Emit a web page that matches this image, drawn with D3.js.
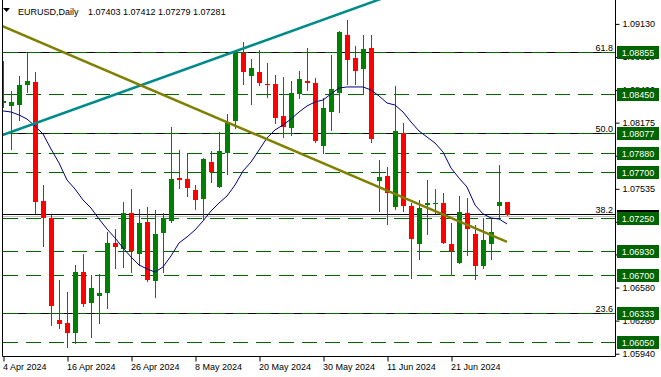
<!DOCTYPE html>
<html>
<head>
<meta charset="utf-8">
<script src="https://cdn.jsdelivr.net/npm/d3@7"></script>
<style>
body { margin: 0; background: #fff; }
svg { display: block; font-family: "Liberation Sans", Arial, sans-serif; font-size: 9px; }
</style>
</head>
<body>
<script>
const symbol = 'EURUSD,Daily';

const dates = [
	'2024-04-04','2024-04-05','2024-04-08','2024-04-09','2024-04-10','2024-04-11','2024-04-12','2024-04-15','2024-04-16','2024-04-17',
	'2024-04-18','2024-04-19','2024-04-22','2024-04-23','2024-04-24','2024-04-25','2024-04-26','2024-04-29','2024-04-30','2024-05-01',
	'2024-05-02','2024-05-03','2024-05-06','2024-05-07','2024-05-08','2024-05-09','2024-05-10','2024-05-13','2024-05-14','2024-05-15',
	'2024-05-16','2024-05-17','2024-05-20','2024-05-21','2024-05-22','2024-05-23','2024-05-24','2024-05-27','2024-05-28','2024-05-29',
	'2024-05-30','2024-05-31','2024-06-03','2024-06-04','2024-06-05','2024-06-06','2024-06-07','2024-06-10','2024-06-11','2024-06-12',
	'2024-06-13','2024-06-14','2024-06-17','2024-06-18','2024-06-19','2024-06-20','2024-06-21','2024-06-24','2024-06-25','2024-06-26',
	'2024-06-27','2024-06-28','2024-07-01','2024-07-02'
];

const open = [
	1.08365,1.08339,1.08345,1.08539,1.08568,1.07417,1.07253,1.06266,1.06237,1.06140,
	1.06730,1.06430,1.06498,1.06527,1.07011,1.06953,1.07301,1.06904,1.07214,1.06643,
	1.07108,1.07224,1.07639,1.07630,1.07523,1.07436,1.07794,1.07552,1.07881,1.08191,
	1.08848,1.08626,1.08665,1.08549,1.08549,1.08239,1.08123,1.08452,1.08578,1.08558,
	1.07949,1.08278,1.08462,1.09023,1.08800,1.08694,1.08897,1.07610,1.07659,1.07359,
	1.08075,1.07369,1.07001,1.07378,1.07393,1.07398,1.07001,1.06817,1.07301,1.07098,
	1.06788,1.07001,1.07369,1.07403
];
const high = [
	1.08771,1.08481,1.08626,1.08848,1.08665,1.07572,1.07282,1.06653,1.06537,1.06798,
	1.06904,1.06701,1.06711,1.07117,1.07146,1.07407,1.07533,1.07340,1.07359,1.07330,
	1.07301,1.08133,1.07910,1.07881,1.07572,1.07833,1.07901,1.08084,1.08258,1.08877,
	1.08955,1.08790,1.08877,1.08752,1.08636,1.08616,1.08578,1.08674,1.08897,1.08607,
	1.08413,1.08829,1.09061,1.09168,1.08916,1.09023,1.09023,1.07813,1.07746,1.08529,
	1.08171,1.07398,1.07427,1.07620,1.07533,1.07494,1.07204,1.07465,1.07446,1.07185,
	1.07253,1.07243,1.07765,1.07412
];
const low = [
	1.08330,1.07920,1.08200,1.08471,1.07301,1.06982,1.06218,1.06189,1.06005,1.06044,
	1.06401,1.06102,1.06237,1.06382,1.06769,1.06779,1.06730,1.06798,1.06643,1.06488,
	1.06730,1.07214,1.07543,1.07465,1.07340,1.07243,1.07601,1.07552,1.07678,1.08123,
	1.08549,1.08355,1.08539,1.08423,1.08171,1.08036,1.08055,1.08413,1.08491,1.07988,
	1.07881,1.08104,1.08278,1.08549,1.08549,1.08452,1.07988,1.07320,1.07195,1.07340,
	1.07320,1.06672,1.06856,1.07098,1.07301,1.07011,1.06701,1.06817,1.06895,1.06663,
	1.06769,1.06856,1.07262,1.07279
];
const close = [
	1.08384,1.08377,1.08539,1.08578,1.07407,1.07253,1.06401,1.06227,1.06140,1.06730,
	1.06421,1.06576,1.06527,1.07011,1.06972,1.07301,1.06933,1.07204,1.06653,1.07098,
	1.07253,1.07630,1.07620,1.07543,1.07427,1.07823,1.07697,1.07901,1.08171,1.08848,
	1.08665,1.08703,1.08558,1.08539,1.08220,1.08133,1.08462,1.08597,1.08558,1.07997,
	1.08316,1.08500,1.09052,1.08781,1.08674,1.08887,1.08017,1.07649,1.07494,1.08094,
	1.07369,1.07049,1.07349,1.07398,1.07402,1.07011,1.06933,1.07311,1.07146,1.06788,
	1.07040,1.07117,1.07407,1.07281
];
const movingAverage = [
	1.08288,1.08278,1.08249,1.08210,1.08143,1.08065,1.07920,1.07785,1.07620,1.07533,
	1.07427,1.07349,1.07243,1.07146,1.07060,1.06963,1.06876,1.06798,1.06760,1.06730,
	1.06779,1.06886,1.07011,1.07069,1.07137,1.07224,1.07320,1.07398,1.07465,1.07572,
	1.07707,1.07794,1.07910,1.08027,1.08104,1.08152,1.08210,1.08278,1.08336,1.08375,
	1.08394,1.08452,1.08510,1.08520,1.08520,1.08520,1.08491,1.08433,1.08365,1.08345,
	1.08278,1.08181,1.08094,1.08036,1.07978,1.07891,1.07736,1.07639,1.07552,1.07378,
	1.07292,1.07253,1.07243,1.07195
];

const priceTicks = [1.09130, 1.08810, 1.08490, 1.08175, 1.07855, 1.07535, 1.07215, 1.06900, 1.06580, 1.06260, 1.05940];
const dateTicks = ['2024-04-04','2024-04-16','2024-04-26','2024-05-08','2024-05-20','2024-05-30','2024-06-11','2024-06-21'];

const levels = [1.08855, 1.08450, 1.08077, 1.07880, 1.07700, 1.07250, 1.06930, 1.06700, 1.06333, 1.06050];
const fibNames = ['61.8', '50.0', '38.2', '23.6'];
const fibPrices = [1.08855, 1.08070, 1.07296, 1.06333];

const risingTrend = [[-1, 1.08028], [48, 1.09393]];
const fallingTrend = [[-1, 1.09140], [63, 1.07021]];

var bars = dates.map((d, i) => ({date: d, o: open[i], h: high[i], l: low[i], c: close[i]}));
var last = bars[bars.length - 1];

var svgSize = {'width': 661, 'height': 377};
var plot = {'left': 3, 'right': 615, 'top': 0, 'bottom': 356};

var svg = d3.select('body').append('svg')
	.attr('width', svgSize.width)
	.attr('height', svgSize.height);

var x = d3.scaleLinear().domain([0, dates.length - 1]).range([3, 507]);
var y = d3.scaleLinear().domain([1.05940, 1.09130]).range([353.7, 23.9]);
var py = (p) => Math.round(y(p)) + 0.5;

svg.append('clipPath').attr('id', 'plot-clip')
	.append('rect')
	.attr('x', plot.left)
	.attr('y', plot.top)
	.attr('width', plot.right - plot.left)
	.attr('height', plot.bottom - plot.top);

var chart = svg.append('g').attr('clip-path', 'url(#plot-clip)');

// fibonacci levels
chart.selectAll('.fib')
	.data(fibPrices)
	.enter()
	.append('line')
	.attr('x1', plot.left).attr('x2', plot.right)
	.attr('y1', (d) => py(d)).attr('y2', (d) => py(d))
	.attr('stroke', '#000')
	.attr('stroke-width', 1);

// horizontal support / resistance levels
chart.selectAll('.level')
	.data(levels)
	.enter()
	.append('line')
	.attr('x1', plot.left).attr('x2', plot.right)
	.attr('y1', (d) => py(d)).attr('y2', (d) => py(d))
	.attr('stroke', '#006400')
	.attr('stroke-width', 1)
	.attr('stroke-dasharray', '15,8');

// bid line
chart.append('line')
	.attr('x1', plot.left).attr('x2', plot.right)
	.attr('y1', py(last.c) + 1).attr('y2', py(last.c) + 1)
	.attr('stroke', '#c0c0c0');

var candle = chart.selectAll('.candle')
	.data(bars)
	.enter()
	.append('g')
	.attr('shape-rendering', 'crispEdges');

candle.append('line')
	.attr('x1', (d, i) => x(i) + 0.5)
	.attr('x2', (d, i) => x(i) + 0.5)
	.attr('y1', (d) => Math.round(y(d.h)))
	.attr('y2', (d) => Math.round(y(d.l)) + 1)
	.attr('stroke', (d) => d.c >= d.o ? '#008000' : '#ff0000');

candle.append('rect')
	.attr('x', (d, i) => x(i) - 2)
	.attr('width', 5)
	.attr('y', (d) => Math.round(y(Math.max(d.o, d.c))))
	.attr('height', (d) => Math.max(1, Math.round(y(Math.min(d.o, d.c))) - Math.round(y(Math.max(d.o, d.c)))))
	.attr('fill', (d) => d.c >= d.o ? '#008000' : '#ff0000');

chart.append('path')
	.datum(movingAverage)
	.attr('d', d3.line().x((d, i) => x(i)).y((d) => y(d)))
	.attr('fill', 'none')
	.attr('stroke', '#000080')
	.attr('stroke-width', 1);

var trendLine = d3.line().x((d) => x(d[0])).y((d) => y(d[1]));

chart.append('path')
	.datum(risingTrend)
	.attr('d', trendLine)
	.attr('stroke', '#008b8b')
	.attr('stroke-width', 2.5);

chart.append('path')
	.datum(fallingTrend)
	.attr('d', trendLine)
	.attr('stroke', '#808000')
	.attr('stroke-width', 2.5);

// frame
svg.append('path')
	.attr('d', `M${plot.left - 0.5},0V${plot.bottom + 0.5}H${plot.right + 0.5}V0`)
	.attr('fill', 'none')
	.attr('stroke', '#000');

chart.selectAll('.fib-label')
	.data(fibPrices)
	.enter()
	.append('text')
	.attr('x', 613)
	.attr('y', (d) => py(d) - 2)
	.attr('text-anchor', 'end')
	.attr('fill', '#000')
	.text((d, i) => fibNames[i]);

var yAxis = svg.append('g')
	.attr('transform', `translate(${plot.right + 0.5}, 0)`)
	.call(d3.axisRight(y).tickValues(priceTicks).tickFormat(d3.format('.5f')).tickSize(4).tickPadding(3));
yAxis.select('.domain').remove();
yAxis.attr('font-size', null).attr('font-family', null);
yAxis.selectAll('text').attr('fill', '#000');

var parseDate = d3.timeParse('%Y-%m-%d');
var xAxis = svg.append('g')
	.attr('transform', `translate(0.5, ${plot.bottom + 0.5})`)
	.call(d3.axisBottom(x)
		.tickValues(dateTicks.map((d) => dates.indexOf(d)))
		.tickFormat((i) => d3.timeFormat('%-d %b %Y')(parseDate(dates[i])))
		.tickSize(5)
		.tickPadding(2));
xAxis.select('.domain').remove();
xAxis.attr('font-size', null).attr('font-family', null);
xAxis.selectAll('text').attr('fill', '#000').attr('text-anchor', 'start').attr('x', -1);

// bid price box, mostly hidden under the level labels
svg.append('rect')
	.attr('x', 617).attr('y', Math.round(y(last.c)) - 5)
	.attr('width', 42).attr('height', 12)
	.attr('fill', '#000');

var tag = svg.selectAll('.level-tag')
	.data(levels)
	.enter()
	.append('g')
	.attr('transform', (d) => `translate(617, ${Math.round(y(d)) - 6})`);

tag.append('rect')
	.attr('width', 42)
	.attr('height', 13)
	.attr('fill', '#006400');

tag.append('text')
	.attr('x', 21)
	.attr('y', 10)
	.attr('text-anchor', 'middle')
	.attr('fill', '#fff')
	.text((d) => d3.format('.5f')(d));

// header
svg.append('path').attr('d', 'M3,8L10,8L6.5,12Z').attr('fill', '#000');
svg.append('text').attr('x', 18).attr('y', 15).attr('fill', '#000').text(symbol);
svg.append('text').attr('x', 88).attr('y', 15).attr('fill', '#000')
	.text([last.o, last.h, last.l, last.c].map(d3.format('.5f')).join(' '));
</script>
</body>
</html>
